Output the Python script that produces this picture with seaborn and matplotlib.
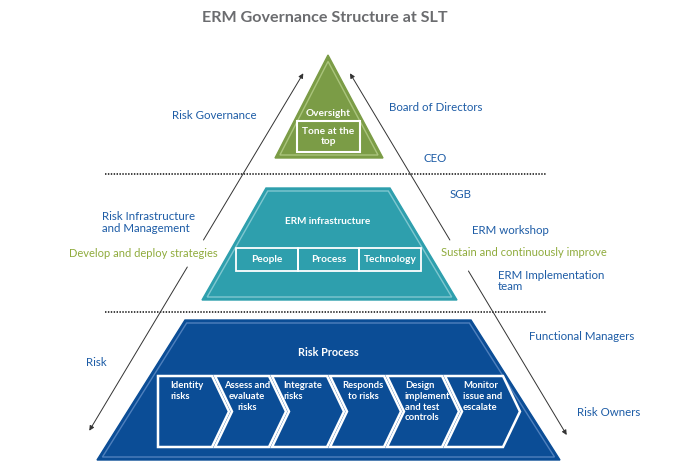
import numpy as np
import pandas as pd
import seaborn as sns
import matplotlib.pyplot as plt
from matplotlib.patches import Polygon, Rectangle

# diagram content
title = "ERM Governance Structure at SLT"
tier_titles = ["Oversight", "ERM infrastructure", "Risk Process"]
tier_colors = ["#7b9c46", "#2e9fad", "#0b4d96"]
tier_stripes = ["#aac47c", "#7fc7d0", "#4f80bd"]
top_box = "Tone at the\ntop"
infra_cells = ["People", "Process", "Technology"]
process_steps = ["Identity\nrisks", "Assess and\nevaluate\nrisks", "Integrate\nrisks",
                 "Responds\nto risks", "Design\nimplement\nand test\ncontrols",
                 "Monitor\nissue and\nescalate"]
left_labels = ["Risk Governance", "Risk Infrastructure\nand Management", "Risk"]
right_labels = ["Board of Directors", "CEO", "SGB", "ERM workshop",
                "ERM Implementation\nteam", "Functional Managers", "Risk Owners"]
arrow_labels = ["Develop and deploy strategies", "Sustain and continuously improve"]

label_blue = "#1d5ca6"
label_green = "#8fab3c"

sns.set_theme(style="white")
plt.rcParams['font.family'] = ['Lato', 'DejaVu Sans']

fig = plt.figure(figsize=(6.81, 4.74), dpi=100)
ax = fig.add_axes([0, 0, 1, 1])


def inset(pts, d):
    # shrink a convex polygon by d pixels
    pts = np.asarray(pts, float)
    n = len(pts)
    c = pts.mean(axis=0)
    lines = []
    for i in range(n):
        p, q = pts[i], pts[(i + 1) % n]
        t = q - p
        nv = np.array([-t[1], t[0]]) / np.hypot(*t)
        if np.dot(c - p, nv) < 0:
            nv = -nv
        lines.append((p + nv * d, t))
    out = []
    for i in range(n):
        p1, t1 = lines[i - 1]
        p2, t2 = lines[i]
        A = np.array([t1, -t2]).T
        s = np.linalg.solve(A, p2 - p1)
        out.append(p1 + s[0] * t1)
    return np.array(out)


def tier(pts, color, stripe):
    ax.add_patch(Polygon(pts, closed=True, fc=color, ec=color, lw=1, zorder=2))
    ax.add_patch(Polygon(inset(pts, 3), closed=True, fc="none", ec=stripe, lw=1, zorder=3))


# dotted separators
for yy in [173.5, 312]:
    sep = pd.DataFrame({"x": [105, 547], "y": [yy, yy]})
    sns.lineplot(data=sep, x="x", y="y", ax=ax, color="#333333", lw=1.3,
                 linestyle=(0, (0.8, 0.8)), zorder=1)
ax.set_xlim(0, 681)
ax.set_ylim(474, 0)
ax.axis("off")

# layers of the pyramid
shapes = [
    [(328, 55), (383, 158), (275, 158)],
    [(266, 188), (390, 188), (457, 300), (202, 300)],
    [(185, 320), (471, 320), (560, 460), (97, 460)],
]
for pts, col, st in zip(shapes, tier_colors, tier_stripes):
    tier(pts, col, st)

bold = dict(color="white", fontweight="bold", ha="center", va="center", zorder=5)
ax.text(328, 113, tier_titles[0], fontsize=7.3, **bold)
ax.add_patch(Rectangle((297, 121), 63, 31, fc="none", ec="white", lw=1.5, zorder=4))
ax.text(328.5, 136.5, top_box, fontsize=7.3, linespacing=1.1, **bold)

ax.text(328, 221, tier_titles[1], fontsize=7.2, **bold)
cell_edges = [236, 298, 359, 421]
for i, name in enumerate(infra_cells):
    x0, x1 = cell_edges[i], cell_edges[i + 1]
    ax.add_patch(Rectangle((x0, 248), x1 - x0, 23, fc="none", ec="white", lw=1.3, zorder=4))
    ax.text((x0 + x1) / 2, 259.5, name, fontsize=7.3, **bold)

ax.text(328, 353, tier_titles[2], fontsize=7.8, **bold)

# chevron row
right_tops = [212, 269, 327, 384, 442, 503]
depth = 17
y_top, y_bot = 376, 447
y_mid = (y_top + y_bot) / 2
text_x = [170, 247, 283, 363, 405, 463]
text_ha = ["left", "center", "left", "center", "left", "left"]
for i, step in enumerate(process_steps):
    left = 158 if i == 0 else right_tops[i - 1] + 3
    r = right_tops[i]
    pts = [(left, y_top), (r, y_top), (r + depth, y_mid), (r, y_bot), (left, y_bot)]
    if i > 0:
        pts.append((left + depth, y_mid))
    ax.add_patch(Polygon(pts, closed=True, fc=tier_colors[2], ec="white", lw=1.8,
                         joinstyle="miter", zorder=4))
    ax.text(text_x[i], 381.5, step, fontsize=6.8, color="white", fontweight="bold",
            ha=text_ha[i], va="top", linespacing=1.22, zorder=5)

# long arrows with gaps around the strategy labels
arrow_kw = dict(arrowstyle="-|>", color="#333333", lw=0.7, mutation_scale=7,
                shrinkA=0, shrinkB=0)


def on_line(p, q, y):
    return p[0] + (q[0] - p[0]) * (y - p[1]) / (q[1] - p[1])


for top, bot, gap in [((303.3, 73.3), (89.3, 430.7), (240, 267)),
                      ((350, 73.3), (566.7, 435), (240, 271))]:
    upper = (on_line(top, bot, gap[0]), gap[0])
    lower = (on_line(top, bot, gap[1]), gap[1])
    ax.annotate("", xy=top, xytext=upper, arrowprops=arrow_kw, zorder=1)
    ax.annotate("", xy=bot, xytext=lower, arrowprops=arrow_kw, zorder=1)

# side labels
lab = dict(fontsize=8.3, color=label_blue, va="center", linespacing=1.1)
left_pos = [(172, 115), (102, 222.5), (86, 362)]
for txt, (x, y) in zip(left_labels, left_pos):
    ax.text(x, y, txt, ha="left", **lab)
right_pos = [(389, 107), (424, 158), (450, 194.5), (472, 230), (498, 281),
             (529, 337), (577, 413)]
for txt, (x, y) in zip(right_labels, right_pos):
    ax.text(x, y, txt, ha="left", **lab)

ax.text(69, 253.5, arrow_labels[0], ha="left", va="center", fontsize=8.0, color=label_green)
ax.text(441, 252, arrow_labels[1], ha="left", va="center", fontsize=8.0, color=label_green)

ax.text(324.5, 18, title, ha="center", va="center", fontsize=11.6, fontweight="bold",
        color="#6b6c6f")

fig.savefig("out.png", dpi=100)
